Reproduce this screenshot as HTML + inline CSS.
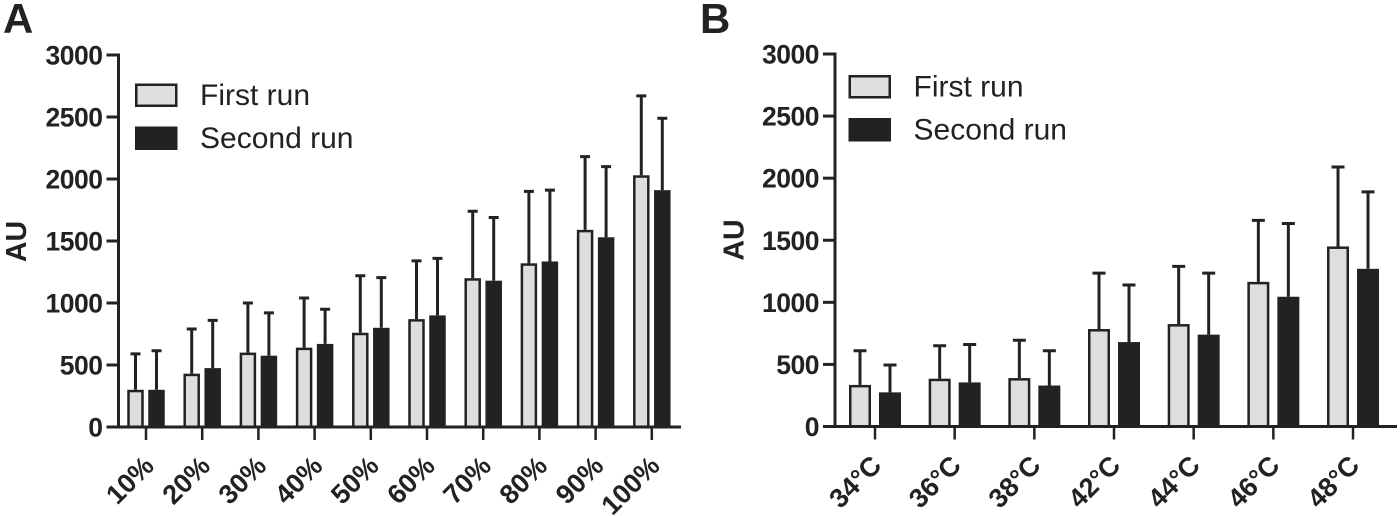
<!DOCTYPE html>
<html>
<head>
<meta charset="utf-8">
<style>
html,body{margin:0;padding:0;background:#fff;}
svg{display:block;filter:blur(0.35px);}
text{font-family:"Liberation Sans",sans-serif;fill:#222;}
</style>
</head>
<body>
<svg id="fig" xmlns="http://www.w3.org/2000/svg" width="1400" height="516" viewBox="0 0 1400 516"></svg>
<script>
const yTicks = [0, 500, 1000, 1500, 2000, 2500, 3000];
const legendLabels = ['First run', 'Second run'];

const categoriesA = ['10%', '20%', '30%', '40%', '50%', '60%', '70%', '80%', '90%', '100%'];
const firstRunA = [300, 430, 600, 640, 760, 870, 1200, 1320, 1590, 2030];
const firstErrTopA = [590, 790, 1000, 1040, 1220, 1340, 1740, 1900, 2180, 2670];
const secondRunA = [300, 475, 575, 670, 800, 900, 1180, 1335, 1530, 1910];
const secondErrTopA = [615, 860, 920, 950, 1205, 1360, 1690, 1910, 2100, 2490];

const categoriesB = ['34°C', '36°C', '38°C', '42°C', '44°C', '46°C', '48°C'];
const firstRunB = [335, 385, 390, 785, 825, 1165, 1450];
const firstErrTopB = [610, 650, 695, 1235, 1290, 1660, 2090];
const secondRunB = [275, 355, 330, 680, 740, 1045, 1270];
const secondErrTopB = [495, 660, 610, 1140, 1235, 1635, 1890];

const NS = 'http://www.w3.org/2000/svg';
const INK = '#222';
const svg = document.getElementById('fig');

function make(tag, attrs, parent) {
  const el = document.createElementNS(NS, tag);
  for (const k in attrs) el.setAttribute(k, attrs[k]);
  parent.appendChild(el);
  return el;
}

function drawPanel(p) {
  const g = make('g', {}, svg);
  
  

  const yScale = v => p.y0 - v * (p.y0 - p.y3000) / 3000;
  const xScale = i => p.xFirst + i * p.xStep;

  const letter = make('text', {x: p.letterX, y: 33, 'font-size': 42, 'font-weight': 'bold', fill: '#111'}, g);
  letter.textContent = p.id;
  
  

  const title = make('text', {transform: 'translate(' + p.titleX + ',' + p.titleY + ') rotate(-90)', 'text-anchor': 'middle', 'font-size': 28.5, 'font-weight': 'bold'}, g);
  title.textContent = 'AU';
  
  

  // bars and error bars
  p.cats.forEach((c, i) => {
    const cx1 = xScale(i) + p.off1, cx2 = xScale(i) + p.off2;
    const hw = p.barW / 2;

    const err1 = make('path', {d: 'M' + cx1 + ' ' + yScale(p.first[i]) + 'V' + yScale(p.firstTop[i]) + 'M' + (cx1 - p.cap) + ' ' + yScale(p.firstTop[i]) + 'H' + (cx1 + p.cap), stroke: INK, 'stroke-width': 3, fill: 'none'}, g);
    
    

    const bar1 = make('rect', {x: cx1 - hw + 1.25, y: yScale(p.first[i]) + 1.25, width: p.barW - 2.5, height: Math.max(0, p.y0 - yScale(p.first[i]) - 1.25), fill: '#dedede', stroke: INK, 'stroke-width': 2.5}, g);
    
    

    const err2 = make('path', {d: 'M' + cx2 + ' ' + yScale(p.second[i]) + 'V' + yScale(p.secondTop[i]) + 'M' + (cx2 - p.cap) + ' ' + yScale(p.secondTop[i]) + 'H' + (cx2 + p.cap), stroke: INK, 'stroke-width': 3, fill: 'none'}, g);
    
    

    const bar2 = make('rect', {x: cx2 - hw, y: yScale(p.second[i]), width: p.barW, height: p.y0 - yScale(p.second[i]), fill: INK}, g);
    
    
  });

  // y axis
  const yAxis = make('line', {x1: p.axisX, x2: p.axisX, y1: yScale(3000) - 1.5, y2: p.y0 + 1.5, stroke: INK, 'stroke-width': 3}, g);
  
  

  yTicks.forEach(v => {
    const t = make('line', {x1: p.axisX - 12, x2: p.axisX, y1: yScale(v), y2: yScale(v), stroke: INK, 'stroke-width': 3}, g);
    
    

    const l = make('text', {x: p.axisX - 16, y: yScale(v) + 9.5, 'text-anchor': 'end', 'font-size': 26.5, 'letter-spacing': '-0.5', 'font-weight': 'bold'}, g);
    l.textContent = v;
    
    
  });

  // x axis
  const xAxis = make('line', {x1: p.axisX - 12, x2: p.xEnd, y1: p.y0, y2: p.y0, stroke: INK, 'stroke-width': 3}, g);
  
  

  p.cats.forEach((c, i) => {
    const x = xScale(i);
    const t = make('line', {x1: x, x2: x, y1: p.y0, y2: p.y0 + 13, stroke: INK, 'stroke-width': 2.5}, g);
    
    

    const l = make('text', {transform: 'translate(' + (x + p.labelDx) + ',' + (p.y0 + p.labelDy) + ') rotate(-45)', 'text-anchor': 'end', 'font-size': 27, 'font-weight': 'bold'}, g);
    l.textContent = c;
    
    
  });

  // legend
  const sw1 = make('rect', {x: p.legX + 1.25, y: p.legY + 1.25, width: 40, height: 21, fill: '#dedede', stroke: INK, 'stroke-width': 2.5}, g);
  
  

  const lt1 = make('text', {x: p.legX + 65, y: p.legY + 21.5, 'font-size': 30}, g);
  lt1.textContent = legendLabels[0];
  
  

  const sw2 = make('rect', {x: p.legX, y: p.legY + 43, width: 42.5, height: 23.5, fill: INK}, g);
  
  

  const lt2 = make('text', {x: p.legX + 65, y: p.legY + 64.3, 'font-size': 30}, g);
  lt2.textContent = legendLabels[1];
  
  
}

drawPanel({id: 'A', letterX: 3, titleX: 26, titleY: 241.5, axisX: 118.5, y0: 427, y3000: 55,
  xFirst: 146, xStep: 56.2, xEnd: 681, off1: -10.5, off2: 10.5, barW: 16.5, cap: 5,
  labelDx: 9.5, labelDy: 40.5, legX: 135, legY: 83.5,
  cats: categoriesA, first: firstRunA, firstTop: firstErrTopA, second: secondRunA, secondTop: secondErrTopA});

drawPanel({id: 'B', letterX: 700, titleX: 743.5, titleY: 240, axisX: 835, y0: 426.5, y3000: 54,
  xFirst: 875, xStep: 79.67, xEnd: 1397, off1: -15, off2: 15, barW: 22, cap: 6.5,
  labelDx: 8, labelDy: 40.5, legX: 848.5, legY: 75,
  cats: categoriesB, first: firstRunB, firstTop: firstErrTopB, second: secondRunB, secondTop: secondErrTopB});
</script>
</body>
</html>
